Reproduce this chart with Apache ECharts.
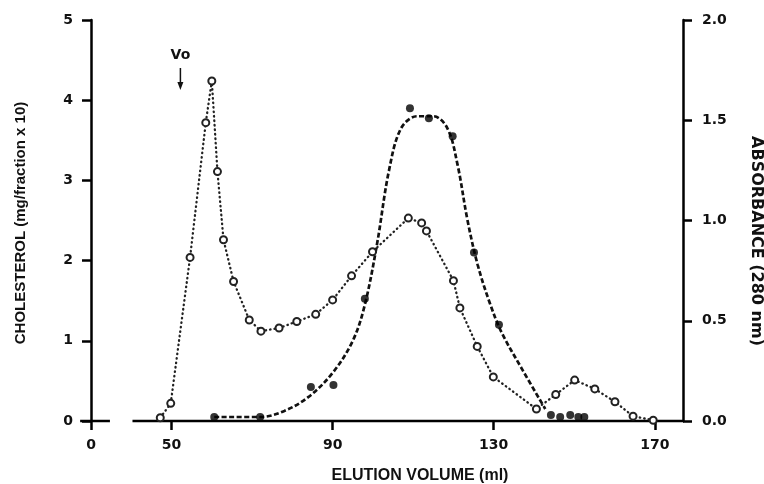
<!DOCTYPE html>
<html><head><meta charset="utf-8">
<script src="https://cdn.jsdelivr.net/npm/echarts@6/dist/echarts.min.js"></script>
<style>html,body{margin:0;padding:0;background:#fff;}#c{width:764px;height:484px;}</style>
</head><body><div id="c"></div>
<script>
// Elution volume (ml) and cholesterol (mg/fraction x 10), open circles
const cholX = [47.2, 49.8, 54.6, 58.5, 60.0, 61.4, 62.9, 65.4, 69.3, 72.2, 76.7, 81.1, 85.8, 90.0, 94.7, 99.9, 108.8, 112.1, 113.3, 120.0, 121.6, 125.9, 129.9, 140.6, 145.4, 150.1, 155.1, 160.1, 164.6, 169.6];
const cholY = [0.04, 0.22, 2.04, 3.72, 4.24, 3.11, 2.26, 1.74, 1.26, 1.12, 1.16, 1.24, 1.33, 1.51, 1.81, 2.11, 2.53, 2.47, 2.37, 1.75, 1.41, 0.93, 0.55, 0.15, 0.33, 0.51, 0.40, 0.24, 0.06, 0.01];
// Absorbance (280 nm), filled circles
const absX = [60.6, 72.0, 84.6, 90.2, 98.0, 109.2, 113.9, 119.8, 125.1, 131.3, 144.2, 146.5, 149.0, 151.0, 152.5];
const absY = [0.02, 0.02, 0.17, 0.18, 0.61, 1.56, 1.51, 1.42, 0.84, 0.48, 0.03, 0.02, 0.03, 0.02, 0.02];
// Hand-drawn absorbance curve (dashed)
const fitX = [60.6, 72.0, 78.0, 84.0, 90.0, 95.0, 98.0, 101.0, 104.0, 107.0, 111.0, 115.0, 118.5, 121.0, 123.5, 126.0, 129.0, 132.0, 137.0, 142.8];
const fitY = [0.02, 0.02, 0.05, 0.12, 0.24, 0.40, 0.58, 0.88, 1.25, 1.46, 1.52, 1.52, 1.46, 1.28, 1.00, 0.78, 0.59, 0.44, 0.26, 0.06];
// Axis ticks
const xTickValues = [30, 50, 90, 130, 170];
const xTickLabels = ['0', '50', '90', '130', '170'];
const leftMax = 5, leftStep = 1;
const rightMax = 2, rightStep = 0.5;
const voX = 52.2;

const zip = (a, b) => a.map((v, i) => [v, b[i]]);
const chart = echarts.init(document.getElementById('c'));
const tickFont = {fontFamily: 'DejaVu Sans', fontWeight: 'bold', fontSize: 14, color: '#111'};
const axLine = {show: true, lineStyle: {color: '#000', width: 2.5}};
const axTick = {show: true, inside: false, length: 9, lineStyle: {color: '#000', width: 2.5}};

chart.setOption({
  animation: false,
  backgroundColor: '#fff',
  grid: {left: 91, right: 81, top: 20, bottom: 63},
  xAxis: {
    type: 'value', min: 30, max: 177,
    axisLine: {show: false},
    axisTick: Object.assign({}, axTick, {customValues: xTickValues}),
    axisLabel: Object.assign({}, tickFont, {customValues: xTickValues, margin: 17,
      formatter: v => xTickLabels[xTickValues.indexOf(v)]}),
    splitLine: {show: false}
  },
  yAxis: [
    {type: 'value', min: 0, max: leftMax, interval: leftStep, position: 'left',
     axisLine: axLine, axisTick: axTick, axisLabel: Object.assign({}, tickFont, {margin: 18}),
     splitLine: {show: false}},
    {type: 'value', min: 0, max: rightMax, interval: rightStep, position: 'right',
     axisLine: axLine, axisTick: axTick,
     axisLabel: Object.assign({}, tickFont, {margin: 19, formatter: v => v.toFixed(1)}),
     splitLine: {show: false}}
  ],
  series: [
    {type: 'line', name: 'Cholesterol', yAxisIndex: 0, data: zip(cholX, cholY),
     symbol: 'emptyCircle', symbolSize: 7, z: 3,
     itemStyle: {color: '#222', borderWidth: 1.5},
     lineStyle: {color: '#222', width: 2.3, type: [0.5, 4], cap: 'round'}},
    {type: 'line', name: 'Absorbance fit', yAxisIndex: 1, data: zip(fitX, fitY),
     symbol: 'none', smooth: 0.35, z: 2,
     lineStyle: {color: '#111', width: 2.7, type: [5, 2.5]}},
    {type: 'scatter', name: 'Absorbance', yAxisIndex: 1, data: zip(absX, absY),
     symbol: 'circle', symbolSize: 8, z: 4, itemStyle: {color: '#000'}}
  ]
});

const px = (x, y) => chart.convertToPixel({xAxisIndex: 0, yAxisIndex: 0}, [x, y]);
const p0 = px(30, 0), pEnd = px(177, 0);
const vo = px(voX, 0);
const nameFont = 'bold 15px "Liberation Sans"';
chart.setOption({
  graphic: [
    {type: 'line', shape: {x1: px(27.3, 0)[0], y1: p0[1], x2: px(34.7, 0)[0], y2: p0[1]},
     style: {stroke: '#000', lineWidth: 2.5}},
    {type: 'line', shape: {x1: px(40.3, 0)[0], y1: p0[1], x2: pEnd[0] + 1, y2: p0[1]},
     style: {stroke: '#000', lineWidth: 2.5}},
    {type: 'text', x: vo[0], y: 55, style: {text: 'Vo', font: 'bold 14px "DejaVu Sans"', fill: '#111', align: 'center', verticalAlign: 'middle'}},
    {type: 'line', shape: {x1: vo[0], y1: 68, x2: vo[0], y2: 84}, style: {stroke: '#111', lineWidth: 1.5}},
    {type: 'polygon', shape: {points: [[vo[0] - 3, 82], [vo[0] + 3, 82], [vo[0], 90]]}, style: {fill: '#111'}},
    {type: 'text', x: 21, y: 223, rotation: Math.PI / 2,
     style: {text: 'CHOLESTEROL (mg/fraction x 10)', font: nameFont, fill: '#111', align: 'center', verticalAlign: 'middle'}},
    {type: 'text', x: 756, y: 241, rotation: -Math.PI / 2,
     style: {text: 'ABSORBANCE (280 nm)', font: 'bold 16px "DejaVu Sans"', fill: '#111', align: 'center', verticalAlign: 'middle'}},
    {type: 'text', x: 420, y: 476,
     style: {text: 'ELUTION VOLUME (ml)', font: 'bold 16px "Liberation Sans"', fill: '#111', align: 'center', verticalAlign: 'middle'}}
  ]
});
</script></body></html>
